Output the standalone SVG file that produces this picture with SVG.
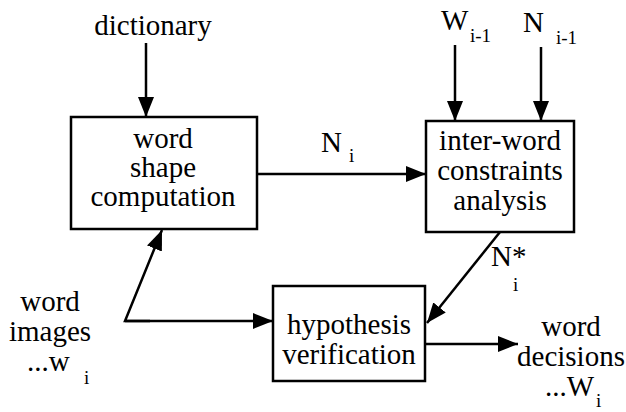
<svg xmlns="http://www.w3.org/2000/svg" width="626" height="412" viewBox="0 0 626 412" font-family="Liberation Serif, DejaVu Serif, serif">
  <style>
    .box { fill: #fff; stroke: #000; stroke-width: 2.5; }
    .line { fill: none; stroke: #000; stroke-width: 2.5; }
    .t { font-size: 29px; fill: #000; }
    .c { text-anchor: middle; }
    .sub { font-size: 19px; fill: #000; }
  </style>
  <defs>
    <marker id="arrow" viewBox="0 0 20 16" refX="20" refY="8" markerWidth="20" markerHeight="16" markerUnits="userSpaceOnUse" orient="auto">
      <path d="M0,0 L20,8 L0,16 Z" fill="#000"/>
    </marker>
  </defs>

  <rect width="626" height="412" fill="#fff"/>

  <g id="connectors">
    <line class="line" x1="146" y1="43" x2="146" y2="117" marker-end="url(#arrow)"/>
    <line class="line" x1="455" y1="45" x2="455" y2="121" marker-end="url(#arrow)"/>
    <line class="line" x1="541" y1="47" x2="541" y2="121" marker-end="url(#arrow)"/>
    <line class="line" x1="257" y1="174" x2="426" y2="174" marker-end="url(#arrow)"/>
    <polyline class="line" points="150,321 125,321 162,230" marker-end="url(#arrow)"/>
    <line class="line" x1="125" y1="321" x2="273" y2="321" marker-end="url(#arrow)"/>
    <line class="line" x1="500" y1="232" x2="427" y2="323" marker-end="url(#arrow)"/>
    <line class="line" x1="425" y1="344" x2="518" y2="344" marker-end="url(#arrow)"/>
  </g>

  <g id="word-shape-computation">
    <rect class="box" x="71" y="117" width="186" height="112"/>
    <text class="t c" x="163" y="148">word</text>
    <text class="t c" x="163" y="177">shape</text>
    <text class="t c" x="163" y="206">computation</text>
  </g>

  <g id="inter-word-constraints-analysis">
    <rect class="box" x="426" y="121" width="148" height="111"/>
    <text class="t c" x="500" y="150">inter-word</text>
    <text class="t c" x="500" y="180">constraints</text>
    <text class="t c" x="500" y="210">analysis</text>
  </g>

  <g id="hypothesis-verification">
    <rect class="box" x="273" y="286" width="152" height="95"/>
    <text class="t c" x="349" y="334">hypothesis</text>
    <text class="t c" x="349" y="364">verification</text>
  </g>

  <g id="labels">
    <text class="t c" x="153" y="35">dictionary</text>
    <text class="t" x="441" y="30">W</text>
    <text class="sub" x="470" y="42">i-1</text>
    <text class="t" x="523" y="32">N</text>
    <text class="sub" x="556" y="44">i-1</text>
    <text class="t" x="321" y="152">N</text>
    <text class="sub" x="349" y="162">i</text>
    <text class="t" x="491" y="266">N*</text>
    <text class="sub" x="513" y="291">i</text>
    <text class="t c" x="50" y="311">word</text>
    <text class="t c" x="50" y="341">images</text>
    <text class="t" x="27" y="371">...w</text>
    <text class="sub" x="84" y="384">i</text>
    <text class="t c" x="571" y="336">word</text>
    <text class="t c" x="571" y="366">decisions</text>
    <text class="t" x="545" y="396">...W</text>
    <text class="sub" x="596" y="407">i</text>
  </g>
</svg>
